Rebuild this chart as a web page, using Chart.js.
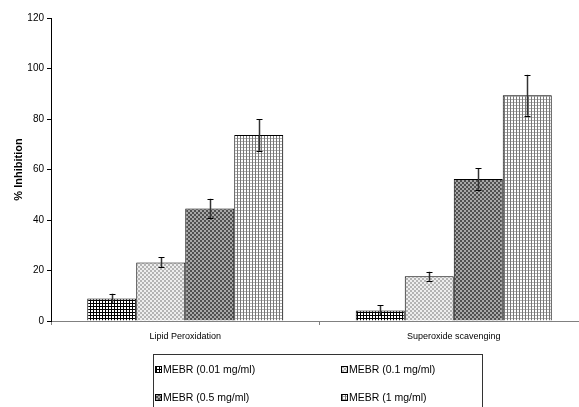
<!DOCTYPE html>
<html>
<head>
<meta charset="utf-8">
<script src="https://cdn.jsdelivr.net/npm/chart.js@4.4.1/dist/chart.umd.min.js"></script>
<style>
  html, body { margin: 0; padding: 0; background: #fff; overflow: hidden; }
  #wrap { position: relative; width: 590px; height: 407px; }
</style>
</head>
<body>
<div id="wrap"><canvas id="c" width="590" height="407"></canvas></div>
<script>
// Assay categories and extract concentrations
const categories = ['Lipid Peroxidation', 'Superoxide scavenging'];
const seriesLabels = ['MEBR (0.01 mg/ml)', 'MEBR (0.1 mg/ml)', 'MEBR (0.5 mg/ml)', 'MEBR (1 mg/ml)'];

// Mean % inhibition per concentration, one value per assay
const conc001 = [8.9, 4.2];
const conc01  = [23.2, 17.7];
const conc05  = [44.6, 56.2];
const conc1   = [73.7, 89.4];

// Standard deviations (error bars)
const err001 = [1.9, 2.0];
const err01  = [2.0, 1.8];
const err05  = [3.8, 4.2];
const err1   = [6.3, 8.1];

const yTicks = [0, 20, 40, 60, 80, 100, 120];

// Fill patterns built from tiny tiles
function tile(w, h, painter) {
  const c = document.createElement('canvas');
  c.width = w; c.height = h;
  const g = c.getContext('2d');
  painter(g);
  return document.getElementById('c').getContext('2d').createPattern(c, 'repeat');
}
const patterns = [
  // dense black grid
  tile(3, 3, g => {
    g.fillStyle = '#fff'; g.fillRect(0, 0, 3, 3);
    g.fillStyle = '#000'; g.fillRect(0, 0, 3, 1); g.fillRect(0, 0, 1, 3);
  }),
  // light grey checker
  tile(4, 4, g => {
    g.fillStyle = '#eeeeee'; g.fillRect(0, 0, 4, 4);
    g.fillStyle = '#b4b4b4'; g.fillRect(0, 0, 2, 2); g.fillRect(2, 2, 2, 2);
  }),
  // dark grey checker
  tile(4, 4, g => {
    g.fillStyle = '#a8a8a8'; g.fillRect(0, 0, 4, 4);
    g.fillStyle = '#505050'; g.fillRect(0, 0, 2, 2); g.fillRect(2, 2, 2, 2);
  }),
  // fine open grid
  tile(3, 3, g => {
    g.fillStyle = '#fff'; g.fillRect(0, 0, 3, 3);
    g.fillStyle = '#b0b0b0'; g.fillRect(0, 0, 3, 1);
    g.fillStyle = '#777'; g.fillRect(0, 0, 1, 3);
  })
];

const values = [conc001, conc01, conc05, conc1];
const errors = [err001, err01, err05, err1];

const errorBars = {
  id: 'errorBars',
  afterDatasetsDraw(chart) {
    const ctx = chart.ctx;
    const y = chart.scales.y;
    ctx.save();
    chart.data.datasets.forEach((ds, i) => {
      const meta = chart.getDatasetMeta(i);
      meta.data.forEach((bar, j) => {
        const v = ds.data[j], e = errors[i][j];
        const top = y.getPixelForValue(v + e);
        const bot = y.getPixelForValue(v - e);
        const x = Math.round(bar.x) + 0.5;
        ctx.strokeStyle = '#333';
        ctx.lineWidth = 1.5;
        ctx.beginPath(); ctx.moveTo(x, top); ctx.lineTo(x, bot); ctx.stroke();
        ctx.strokeStyle = '#000';
        ctx.lineWidth = 1;
        ctx.beginPath();
        ctx.moveTo(x - 3, Math.round(top) + 0.5); ctx.lineTo(x + 3, Math.round(top) + 0.5);
        ctx.moveTo(x - 3, Math.round(bot) + 0.5); ctx.lineTo(x + 3, Math.round(bot) + 0.5);
        ctx.stroke();
      });
    });
    ctx.restore();
  }
};

// Boxed two-column legend under the plot
const boxLegend = {
  id: 'boxLegend',
  afterDraw(chart) {
    const ctx = chart.ctx;
    ctx.save();
    ctx.strokeStyle = '#333';
    ctx.lineWidth = 1;
    ctx.strokeRect(153.5, 354.5, 329, 70);
    const cols = [155, 341];
    const rows = [370, 398];
    ctx.font = '10.5px "Liberation Sans", Arial, sans-serif';
    ctx.textBaseline = 'middle';
    ctx.fillStyle = '#000';
    seriesLabels.forEach((lab, i) => {
      const cx = cols[i % 2], cy = rows[Math.floor(i / 2)];
      ctx.fillStyle = patterns[i];
      ctx.fillRect(cx, cy - 4, 7, 7);
      ctx.strokeStyle = '#000';
      ctx.strokeRect(cx + 0.5, cy - 3.5, 6, 6);
      ctx.fillStyle = '#000';
      ctx.fillText(lab, cx + 8, cy);
    });
    ctx.restore();
  }
};

new Chart(document.getElementById('c'), {
  type: 'bar',
  data: {
    labels: categories,
    datasets: values.map((d, i) => ({
      label: seriesLabels[i],
      data: d,
      backgroundColor: patterns[i],
      borderColor: '#000',
      borderWidth: 1,
      categoryPercentage: 0.73,
      barPercentage: 1.0
    }))
  },
  options: {
    responsive: false,
    animation: false,
    layout: { padding: { left: 12, top: 18, right: 2, bottom: 0 } },
    plugins: { legend: { display: false }, tooltip: { enabled: false } },
    scales: {
      x: {
        grid: { display: true, drawOnChartArea: false, offset: true, color: '#808080', tickLength: 4 },
        border: { color: '#808080', width: 1 },
        ticks: { color: '#000', font: { family: '"Liberation Sans", Arial, sans-serif', size: 9 }, padding: 6 },
        afterFit(s) { s.height = 86; }
      },
      y: {
        min: 0, max: 120,
        afterBuildTicks(s) { s.ticks = yTicks.map(v => ({ value: v })); },
        grid: { display: true, drawOnChartArea: false, color: '#000', tickLength: 4 },
        border: { color: '#000', width: 1 },
        ticks: { color: '#000', font: { family: '"Liberation Sans", Arial, sans-serif', size: 10 }, padding: 3 },
        title: {
          display: true, text: '% Inhibition', color: '#000',
          font: { family: '"Liberation Sans", Arial, sans-serif', size: 11, weight: 'bold' },
          padding: { top: 0, bottom: 8 }
        },
        afterFit(s) { s.width = 39; }
      }
    }
  },
  plugins: [errorBars, boxLegend]
});
</script>
</body>
</html>
